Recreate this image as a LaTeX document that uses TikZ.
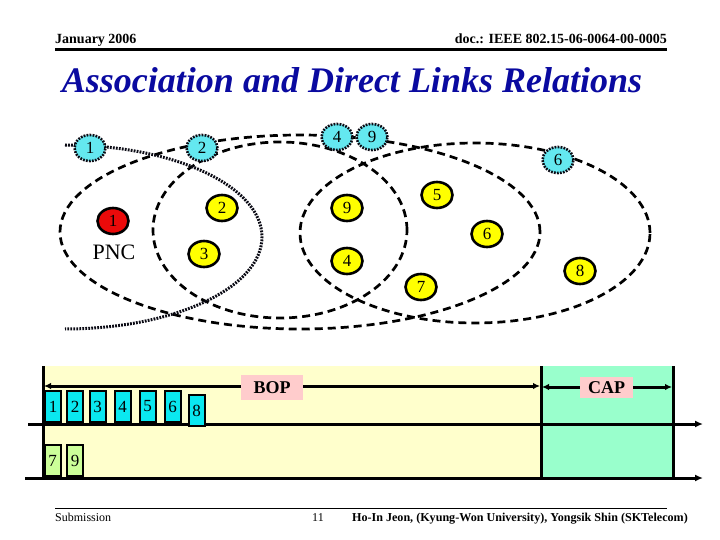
\documentclass[tikz,border=0pt]{standalone}
\usepackage{fontspec}
\setmainfont{Liberation Serif}
\usetikzlibrary{arrows.meta,shapes.geometric}
\definecolor{titleblue}{RGB}{10,10,160}
\definecolor{cyandev}{RGB}{100,232,240}
\definecolor{cyanslot}{RGB}{10,232,240}
\definecolor{yelldev}{RGB}{255,255,0}
\definecolor{reddev}{RGB}{235,10,10}
\definecolor{bgyellow}{RGB}{255,255,204}
\definecolor{bggreen}{RGB}{153,255,204}
\definecolor{greenslot}{RGB}{204,255,153}
\definecolor{pinklab}{RGB}{255,204,204}
\definecolor{dotdark}{RGB}{10,10,20}
\begin{document}
\begin{tikzpicture}[x=1pt,y=-1pt,
  setline/.style={line width=2.7pt, dash pattern=on 8pt off 5pt},
  dotline/.style={line width=3pt, dotdark, dash pattern=on 1.8pt off 1.2pt},
  devbase/.style={ellipse, inner sep=0pt, minimum width=31pt, minimum height=26pt, font=\fontsize{17}{17}\selectfont},
  ydev/.style={devbase, draw, line width=2.6pt, fill=yelldev},
  rdev/.style={devbase, draw, line width=2.6pt, fill=reddev},
  cdev/.style={devbase, draw=dotdark, line width=2.6pt, dash pattern=on 1.8pt off 1.2pt, fill=cyandev},
  slotbox/.style={draw, line width=2pt, minimum width=16pt, minimum height=31pt, inner sep=0pt, anchor=south, font=\fontsize{17}{17}\selectfont},
  cslot/.style={slotbox, fill=cyanslot},
  gslot/.style={slotbox, fill=greenslot},
  tl/.style={line width=3pt},
  tarrow/.style={line width=3pt, -{Latex[length=8pt,width=7pt]}},
  darrow/.style={line width=3pt, {Latex[length=7pt,width=6.5pt]}-{Latex[length=7pt,width=6.5pt]}},
  lab/.style={fill=pinklab, inner sep=0pt, font=\bfseries\fontsize{18}{18}\selectfont}
]
\useasboundingbox (0,0) rectangle (720,540);
% header
\node[anchor=base west, inner sep=0pt, font=\bfseries\fontsize{14}{14}\selectfont] (hdate) at (55,44) {January 2006};
\node[anchor=base east, inner sep=0pt, font=\bfseries\fontsize{14}{14}\selectfont] (hdoc) at (667,44) {doc.: IEEE 802.15-06-0064-00-0005};
\draw[line width=2.5pt] (55,49.5) -- (667,49.5);
\node[anchor=base, inner sep=0pt, text=titleblue, font=\bfseries\itshape\fontsize{36}{36}\selectfont] (title) at (352,93) {Association and Direct Links Relations};
% sets
\draw[setline] (300,232) ellipse [x radius=240pt, y radius=97pt];
\draw[setline] (280,230) ellipse [x radius=127pt, y radius=88pt];
\draw[setline] (475,233) ellipse [x radius=175pt, y radius=90pt];
\draw[dotline] (65,145) arc [start angle=90, end angle=-90, x radius=197pt, y radius=92pt];
% devices
\node[cdev] (c1) at (90,148) {1};
\node[cdev] (c2) at (202,148) {2};
\node[cdev] (c4) at (337,137) {4};
\node[cdev] (c9) at (372,137) {9};
\node[cdev] (c6) at (558,160) {6};
\node[rdev] (pnc) at (113,221) {1};
\node[inner sep=0pt, font=\fontsize{22}{22}\selectfont] (pnclab) at (114,252) {PNC};
\node[ydev] (y2) at (222,208) {2};
\node[ydev] (y3) at (204,254) {3};
\node[ydev] (y9) at (347,208) {9};
\node[ydev] (y4) at (347,261) {4};
\node[ydev] (y7) at (421,287) {7};
\node[ydev] (y5) at (437,195) {5};
\node[ydev] (y6) at (487,234) {6};
\node[ydev] (y8) at (580,271) {8};
% timeline
\fill[bgyellow] (43,366) rectangle (541,478);
\fill[bggreen] (541,366) rectangle (673,478);
\coordinate (v1t) at (43,366); \coordinate (v1b) at (43,478);
\coordinate (v2t) at (541,366); \coordinate (v2b) at (541,478);
\coordinate (v3t) at (673,366); \coordinate (v3b) at (673,478);
\draw[tl] (v1t) -- (v1b);
\draw[tl] (v2t) -- (v2b);
\draw[tl] (v3t) -- (v3b);
\coordinate (m0) at (28,424); \coordinate (m1) at (703,424);
\coordinate (b0) at (25,478); \coordinate (b1) at (703,478);
\draw[tarrow] (m0) -- (m1);
\draw[tarrow] (b0) -- (b1);
\coordinate (bop0) at (44,386); \coordinate (bop1) at (540,386);
\coordinate (cap0) at (542,387); \coordinate (cap1) at (672,387);
\draw[darrow] (bop0) -- (bop1);
\draw[darrow] (cap0) -- (cap1);
\node[lab, minimum width=62pt, minimum height=25pt] (bop) at (272,387.5) {BOP};
\node[lab, minimum width=53pt, minimum height=21pt] (cap) at (606.5,387.5) {CAP};
% slots
\node[cslot] (s1) at (53,423) {1};
\node[cslot] (s2) at (75,423) {2};
\node[cslot] (s3) at (97.5,423) {3};
\node[cslot] (s4) at (122.5,423) {4};
\node[cslot] (s5) at (147.5,423) {5};
\node[cslot] (s6) at (172.5,423) {6};
\node[cslot] (s8) at (196.5,427) {8};
\node[gslot] (s7) at (52.5,477) {7};
\node[gslot] (s9) at (75,477) {9};
% footer
\draw[line width=1.8pt] (55,508.5) -- (667,508.5);
\node[anchor=base west, inner sep=0pt, font=\fontsize{12}{12}\selectfont] (fsub) at (55,521) {Submission};
\node[anchor=base, inner sep=0pt, font=\fontsize{12}{12}\selectfont] (fnum) at (318,521) {11};
\node[anchor=base east, inner sep=0pt, font=\bfseries\fontsize{12.1}{12.1}\selectfont] (fauth) at (688,521) {Ho-In Jeon, (Kyung-Won University), Yongsik Shin (SKTelecom)};
\end{tikzpicture}
\end{document}
